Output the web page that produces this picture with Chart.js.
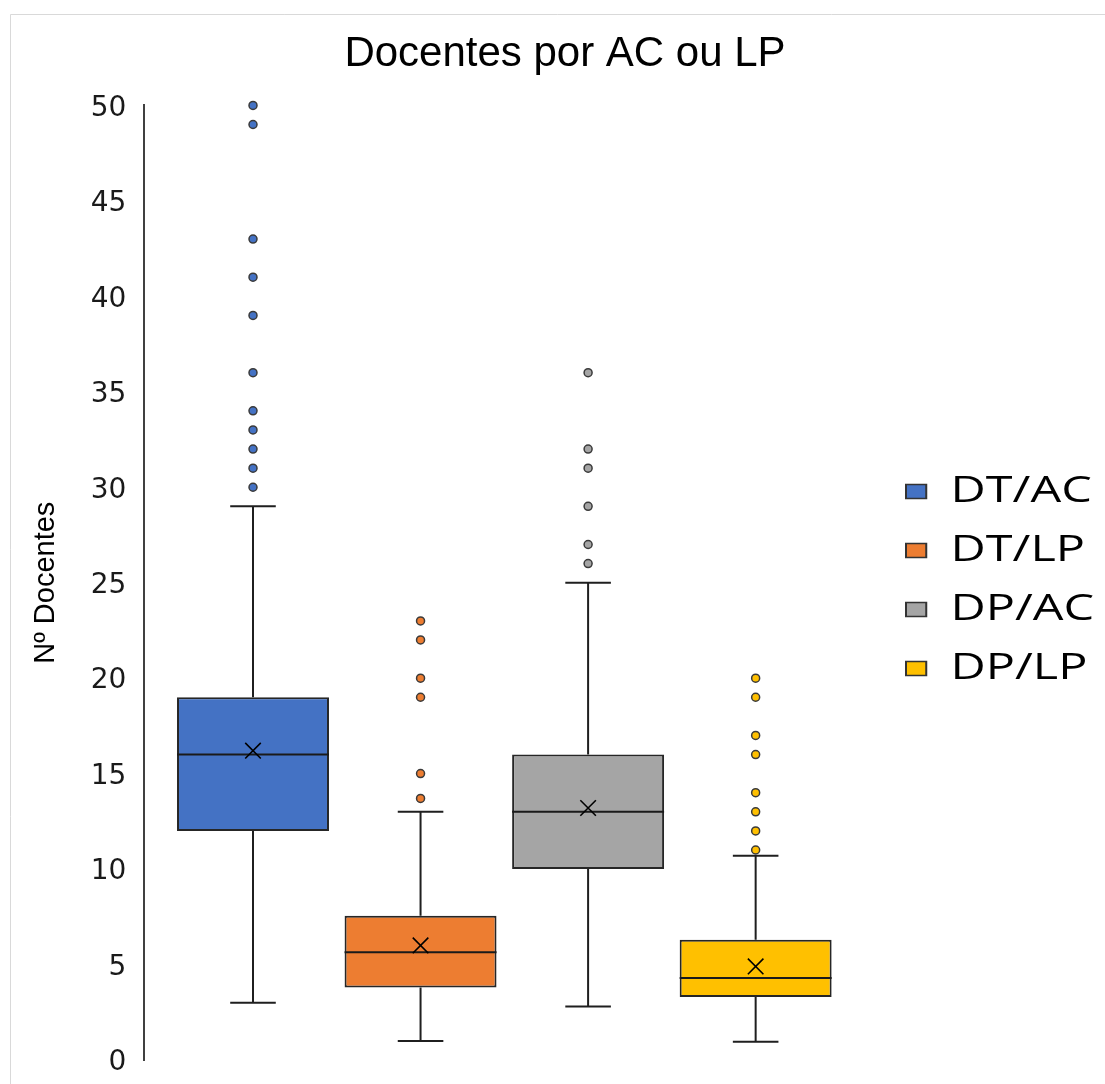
<!DOCTYPE html>
<html><head><meta charset="utf-8">
<script src="https://cdn.jsdelivr.net/npm/chart.js@4/dist/chart.umd.min.js"></script>
<style>html,body{margin:0;padding:0;background:#fff}canvas{display:block}</style>
</head><body>
<canvas id="c" width="1105" height="1084" style="width:1105px;height:1084px"></canvas>
<script>
// ---- data ----
const categories = ['DT/AC', 'DT/LP', 'DP/AC', 'DP/LP'];
const colors = ['#4472C4', '#ED7D31', '#A5A5A5', '#FFC000'];
const whiskerMin = [3, 1, 2.8, 0.95];
const q1 = [12, 3.8, 10, 3.3];
const median = [16, 5.65, 13, 4.3];
const q3 = [19, 7.55, 16, 6.3];
const whiskerMax = [29, 13, 25, 10.7];
const mean = [16.2, 6.0, 13.2, 4.9];
const outliersDTAC = [30, 31, 32, 33, 34, 36, 39, 41, 43, 49, 50];
const outliersDTLP = [13.7, 15, 19, 20, 22, 23];
const outliersDPAC = [26, 27, 29, 31, 32, 36];
const outliersDPLP = [11, 12, 13, 14, 16, 17, 19, 20];
const outliers = [outliersDTAC, outliersDTLP, outliersDPAC, outliersDPLP];

// ---- styling (layout, not data) ----
const LEGEND_STRETCH = 1.35;
const LEGEND_X = 906;
const LEGEND_DY = 50;
const CAP_FRACTION = 0.3;

const boxPlugin = {
  id: 'boxExtras',
  beforeDraw(chart) {
    const ctx = chart.ctx;
    ctx.save();
    ctx.fillStyle = '#ffffff';
    ctx.fillRect(0, 0, chart.width, chart.height);
    ctx.strokeStyle = '#d9d9d9';
    ctx.lineWidth = 1;
    ctx.beginPath();
    ctx.moveTo(10.5, chart.height);
    ctx.lineTo(10.5, 14.5);
    ctx.lineTo(chart.width, 14.5);
    ctx.stroke();
    ctx.restore();
    const lg = chart.legend;
    if (lg && !lg._stretched) {
      const orig = lg.draw;
      lg.draw = function () {
        const c = this.ctx;
        c.save();
        const x0 = this.left + this.options.labels.padding;
        c.translate(LEGEND_X, LEGEND_DY);
        c.scale(LEGEND_STRETCH, 1);
        c.translate(-x0, 0);
        orig.apply(this, arguments);
        c.restore();
      };
      lg._stretched = true;
    }
  },
  beforeDatasetsDraw(chart) {
    const { ctx, scales: { x, y } } = chart;
    const meta = chart.getDatasetMeta(0);
    ctx.save();
    ctx.strokeStyle = '#1f1f1f';
    ctx.lineWidth = 2;
    categories.forEach((c, i) => {
      const bar = meta.data[i];
      const cx = x.getPixelForValue(i + 1);
      const half = bar.width * CAP_FRACTION / 2;
      const yMin = y.getPixelForValue(whiskerMin[i]);
      const yQ1 = y.getPixelForValue(q1[i]);
      const yQ3 = y.getPixelForValue(q3[i]);
      const yMax = y.getPixelForValue(whiskerMax[i]);
      ctx.beginPath();
      ctx.moveTo(cx, yQ3); ctx.lineTo(cx, yMax);
      ctx.moveTo(cx - half, yMax); ctx.lineTo(cx + half, yMax);
      ctx.moveTo(cx, yQ1); ctx.lineTo(cx, yMin);
      ctx.moveTo(cx - half, yMin); ctx.lineTo(cx + half, yMin);
      ctx.stroke();
    });
    ctx.restore();
  },
  afterDatasetDraw(chart, args) {
    if (args.index !== 0) return;
    const { ctx, scales: { x, y } } = chart;
    const meta = chart.getDatasetMeta(0);
    ctx.save();
    ctx.strokeStyle = '#1a1a1a';
    ctx.lineWidth = 2;
    categories.forEach((c, i) => {
      const bar = meta.data[i];
      const cx = x.getPixelForValue(i + 1);
      const ym = y.getPixelForValue(median[i]);
      ctx.beginPath();
      ctx.moveTo(cx - bar.width / 2, ym);
      ctx.lineTo(cx + bar.width / 2, ym);
      ctx.stroke();
    });
    ctx.restore();
  }
};

const datasets = [
  {
    type: 'bar',
    label: 'box',
    data: categories.map((c, i) => ({ x: i + 1, y: [q1[i], q3[i]] })),
    backgroundColor: colors,
    borderColor: '#262626',
    borderWidth: 2,
    borderSkipped: false,
    barPercentage: 0.907,
    categoryPercentage: 1,
    clip: false,
    order: 3
  },
  ...outliers.map((arr, i) => ({
    type: 'line',
    label: categories[i] + ' outliers',
    data: arr.map(v => ({ x: i + 1, y: v })),
    showLine: false,
    pointStyle: 'circle',
    pointRadius: 4,
    pointBackgroundColor: colors[i],
    pointBorderColor: '#3a3a3a',
    pointBorderWidth: 1.5,
    clip: false,
    order: 2
  })),
  {
    type: 'line',
    label: 'mean',
    data: mean.map((v, i) => ({ x: i + 1, y: v })),
    showLine: false,
    pointStyle: 'crossRot',
    pointRadius: 11,
    pointBorderColor: '#000',
    pointBorderWidth: 1.6,
    clip: false,
    order: 1
  }
];

new Chart(document.getElementById('c'), {
  type: 'bar',
  data: { datasets },
  plugins: [boxPlugin],
  options: {
    responsive: false,
    devicePixelRatio: 1,
    animation: false,
    layout: { padding: { left: 25, right: 0, top: 0, bottom: 24 } },
    plugins: {
      tooltip: { enabled: false },
      title: {
        display: true,
        text: 'Docentes por AC ou LP',
        color: '#000',
        font: { family: 'Liberation Sans', size: 42, weight: 'normal' },
        padding: { top: 29, bottom: 26 }
      },
      legend: {
        display: true,
        position: 'right',
        align: 'center',
        labels: {
          color: '#000',
          font: { family: 'Open Sans', size: 36 },
          boxWidth: 15,
          boxHeight: 14,
          padding: 23,
          generateLabels: () => categories.map((c, i) => ({
            text: c,
            fillStyle: colors[i],
            strokeStyle: '#333',
            lineWidth: 1.5,
            hidden: false,
            datasetIndex: 0,
            index: i
          }))
        }
      }
    },
    scales: {
      x: {
        type: 'linear',
        offset: false,
        min: 0.352,
        max: 5.056,
        ticks: { stepSize: 1, includeBounds: false },
        display: false
      },
      y: {
        min: 0,
        max: 50,
        ticks: {
          stepSize: 5,
          padding: 18,
          labelOffset: 3,
          color: '#1a1a1a',
          font: { family: 'DejaVu Sans', size: 28, lineHeight: 0.4 }
        },
        grid: { display: false, drawTicks: false },
        border: { display: true, color: '#404040', width: 2 },
        title: {
          display: true,
          text: 'Nº Docentes',
          color: '#000',
          font: { family: 'Liberation Sans', size: 29 },
          padding: { top: 4, bottom: 9 }
        }
      }
    }
  }
});
</script>
</body></html>
